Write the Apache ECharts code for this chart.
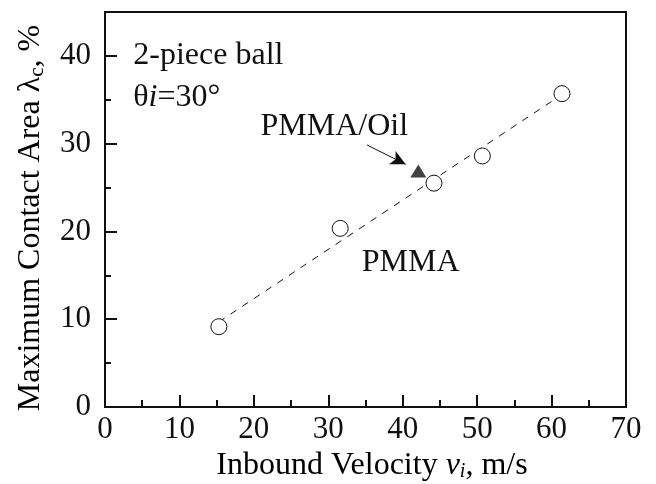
<!DOCTYPE html>
<html><head><meta charset="utf-8">
<script src="https://cdn.jsdelivr.net/npm/echarts@6/dist/echarts.min.js"></script>
<style>html,body{margin:0;padding:0;background:#fff}#c{width:656px;height:484px}</style>
</head><body><div id="c"></div>
<script>
// ---- data ----
const velocity = [15.3, 31.6, 44.2, 50.7, 61.4];          // PMMA, inbound velocity (m/s)
const contactArea = [9.15, 20.35, 25.5, 28.6, 35.7];      // PMMA, max contact area (%)
const oilVelocity = [42.1];                               // PMMA/Oil
const oilContactArea = [26.9];
const fitX = [15.3, 61.4];                                // dashed fit line ends
const fitY = [9.7, 35.6];
const arrowStart = [35.2, 29.85];
const arrowEnd = [40.4, 27.65];
const xTickLabels = ['0','10','20','30','40','50','60','70'];
const yTickLabels = ['0','10','20','30','40'];
const annotations = [
  {id:'a1', text:'2-piece ball', at:[3.8, 40.0]},
  {id:'a2', text:'{n|θ}{i|i}{n|=30°}', at:[3.8, 35.3]},
  {id:'a3', text:'PMMA/Oil', at:[20.9, 32.0]},
  {id:'a4', text:'PMMA', at:[34.5, 16.4]}
];

const FONT = '"Liberation Serif","Times New Roman",serif';
const chart = echarts.init(document.getElementById('c'), null, {renderer:'canvas'});

const scatterData = velocity.map((v,i)=>[v, contactArea[i]]);
const oilData = oilVelocity.map((v,i)=>[v, oilContactArea[i]]);
const fitData = fitX.map((v,i)=>[v, fitY[i]]);

const option = {
  animation:false,
  backgroundColor:'#fff',
  grid:{left:105, top:12, right:30, bottom:77, show:true, borderColor:'#111', borderWidth:2, backgroundColor:'transparent'},
  xAxis:{
    type:'value', min:0, max:70, interval:10,
    axisLine:{show:true, lineStyle:{color:'#111', width:2}},
    axisTick:{show:true, inside:true, length:12, lineStyle:{color:'#111', width:2}},
    minorTick:{show:true, splitNumber:2, length:7, lineStyle:{color:'#111', width:2}},
    splitLine:{show:false},
    axisLabel:{margin:7, color:'#111', fontFamily:FONT, fontSize:31,
      formatter:(v)=>xTickLabels[Math.round(v/10)] ?? ''}
  },
  yAxis:[{
    type:'value', min:0, max:45, interval:5, position:'left',
    axisLine:{show:true, lineStyle:{color:'#111', width:2}},
    axisTick:{show:true, inside:true, length:6, lineStyle:{color:'#111', width:2}},
    splitLine:{show:false},
    axisLabel:{margin:14, color:'#111', fontFamily:FONT, fontSize:31, showMaxLabel:false,
      formatter:(v)=> (v%10===0 ? (yTickLabels[v/10] ?? '') : '')}
  },{
    type:'value', min:0, max:45, interval:10, position:'left', offset:0,
    axisLine:{show:false},
    axisTick:{show:true, inside:true, length:12, lineStyle:{color:'#111', width:2}},
    splitLine:{show:false},
    axisLabel:{show:false}
  }],
  series:[
    {type:'line', data:fitData, symbol:'none', z:1, silent:true,
      lineStyle:{color:'#111', width:1, type:[7,7]}},
    {type:'scatter', data:scatterData, symbol:'circle', symbolSize:16, z:3,
      itemStyle:{color:'#fff', borderColor:'#111', borderWidth:1, opacity:1}},
    {type:'scatter', data:oilData, symbol:'triangle', symbolSize:[16,13], z:3,
      itemStyle:{color:'#111'}},
    {type:'line', data:[], z:2,
      markLine:{silent:true, symbol:['none','arrow'], symbolSize:[11,15],
        label:{show:false}, lineStyle:{color:'#111', width:1, type:'solid'},
        data:[[{coord:arrowStart},{coord:arrowEnd}]]}}
  ]
};
chart.setOption(option);

const rich = {
  n:{fontFamily:FONT, fontSize:32, color:'#111'},
  i:{fontFamily:FONT, fontSize:32, fontStyle:'italic', color:'#111'}
};
const graphics = annotations.map(a=>{
  const p = chart.convertToPixel({gridIndex:0}, a.at);
  return {type:'text', id:a.id, x:p[0], y:p[1], z:10, silent:true,
    style:{text:a.text, font:'32px '+FONT, fill:'#111', verticalAlign:'middle', align:'left', rich:rich}};
});
graphics.push({type:'text', id:'xt', x:372, y:466, z:10, silent:true,
  style:{text:'{n|Inbound Velocity }{iv|v}{isub|i}{n|, m/s}', align:'center', verticalAlign:'middle',
    rich:{n:{fontFamily:FONT,fontSize:32,color:'#111'}, iv:{fontFamily:FONT,fontSize:32,fontStyle:'italic',color:'#111'},
      isub:{fontFamily:FONT,fontSize:20,fontStyle:'italic',color:'#111',padding:[12,0,0,0]}}}});
graphics.push({type:'text', id:'yt', x:31, y:218, rotation:Math.PI/2, z:10, silent:true,
  style:{text:'{n|Maximum Contact Area λ}{sub|c}{n|, %}', align:'center', verticalAlign:'middle',
    rich:{n:{fontFamily:FONT,fontSize:32,color:'#111'}, sub:{fontFamily:FONT,fontSize:21,color:'#111',padding:[12,0,0,0]}}}});
chart.setOption({graphic:graphics});
</script>
</body></html>
